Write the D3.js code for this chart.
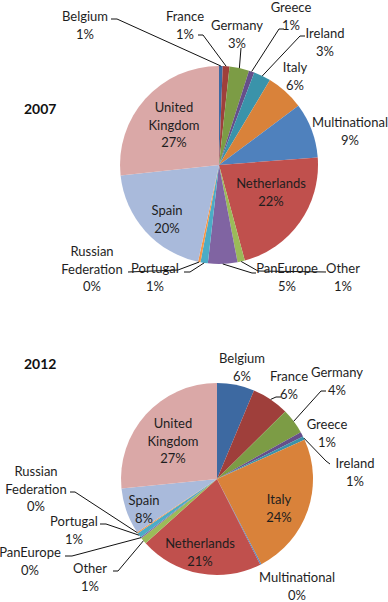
<!DOCTYPE html>
<html>
<head>
<meta charset="utf-8">
<script src="https://cdnjs.cloudflare.com/ajax/libs/d3/7.8.5/d3.min.js"></script>
<style>
  body { margin: 0; background: #fff; }
  svg { display: block; }
  .lbl { font-family: Lato, "Open Sans", sans-serif; font-size: 13px; fill: #1e1e1e; }
  .title { font-family: Lato, "Open Sans", sans-serif; font-size: 14px; font-weight: bold; fill: #111; }
  .leader { fill: none; stroke: #111; stroke-width: 1; }
</style>
</head>
<body>
<script>
// data (percent shares)
const categories = ["Belgium", "France", "Germany", "Greece", "Ireland", "Italy", "Multinational",
  "Netherlands", "Other", "PanEurope", "Portugal", "Russian Federation", "Spain", "United Kingdom"];
const values2007 = [0.6, 1.1, 3.2, 0.9, 2.8, 6.2, 9.0, 22.0, 1.2, 4.8, 1.2, 0.4, 19.9, 26.7];
const values2012 = [6.3, 6.3, 4.3, 0.8, 0.6, 24.1, 0.2, 20.8, 1.1, 0.2, 0.8, 0.2, 7.8, 26.6];
const colors = ["#3d69a1", "#9f3f3b", "#7c9c45", "#664f8a", "#3a93aa", "#d9823a", "#4f81bd",
  "#c0504d", "#9bbb59", "#8064a2", "#4bacc6", "#f79646", "#a9badb", "#daa8a7"];

// label layout: label centre and leader points (leader ends on the slice edge)
const layout2007 = {
  "Belgium": { x: 85, y: 16, lead: [[111, 19], [117, 19]] },
  "France": { x: 185, y: 16, lead: [[198, 35], [203, 35]] },
  "Germany": { x: 237, y: 25, lead: [[241, 48]] },
  "Greece": { x: 291, y: 7, lead: [[284, 29], [279, 29]] },
  "Ireland": { x: 325, y: 33, lead: [[305, 36], [300, 36]] },
  "Italy": { x: 295, y: 67 },
  "Multinational": { x: 350, y: 122 },
  "Netherlands": { x: 271, y: 183 },
  "Other": { x: 343, y: 268, lead: [[326, 272], [258, 271]] },
  "PanEurope": { x: 287, y: 268, lead: [[256, 273], [252, 273]] },
  "Portugal": { x: 155, y: 268, lead: [[184, 272], [190, 272]] },
  "Russian Federation": { x: 92, y: 251, lead: [[128, 272], [178, 270]] },
  "Spain": { x: 167, y: 210 },
  "United Kingdom": { x: 174, y: 107 }
};
const layout2012 = {
  "Belgium": { x: 242, y: 358 },
  "France": { x: 289, y: 376, lead: [[281, 397], [276, 397]] },
  "Germany": { x: 337, y: 372, lead: [[326, 391], [321, 391]] },
  "Greece": { x: 327, y: 424 },
  "Ireland": { x: 355, y: 463, lead: [[330, 464], [326, 461]] },
  "Italy": { x: 279, y: 499 },
  "Multinational": { x: 297, y: 577 },
  "Netherlands": { x: 200, y: 543 },
  "Other": { x: 90, y: 568, lead: [[113, 571], [118, 571]] },
  "PanEurope": { x: 30, y: 552, lead: [[65, 556], [72, 556]] },
  "Portugal": { x: 74, y: 521, lead: [[100, 524], [106, 524]] },
  "Russian Federation": { x: 36, y: 471, lead: [[70, 492], [75, 492]] },
  "Spain": { x: 144, y: 500 },
  "United Kingdom": { x: 173, y: 423 }
};

const charts = [
  { title: "2007", values: values2007, layout: layout2007, cx: 219, cy: 165, r: 99, tx: 24, ty: 108 },
  { title: "2012", values: values2012, layout: layout2012, cx: 217, cy: 479, r: 96, tx: 24, ty: 363 }
];

const W = 388, H = 602, lineH = 17.5;
const svg = d3.select("body").append("svg").attr("width", W).attr("height", H);

const pie = d3.pie().sort(null).value(d => d.value);

charts.forEach(c => {
  const rows = categories.map((name, i) => ({ name, value: c.values[i], color: colors[i] }));
  const arcs = pie(rows);
  const arc = d3.arc().innerRadius(0).outerRadius(c.r);

  const g = svg.append("g").attr("transform", `translate(${c.cx},${c.cy})`);
  g.selectAll("path.slice")
    .data(arcs)
    .enter().append("path")
    .attr("class", "slice")
    .attr("d", arc)
    .attr("fill", d => d.data.color);

  svg.append("text")
    .attr("class", "title")
    .attr("x", c.tx).attr("y", c.ty)
    .attr("dominant-baseline", "central")
    .text(c.title);

  // leader lines
  arcs.forEach(a => {
    const l = c.layout[a.data.name];
    if (!l || !l.lead) return;
    const mid = (a.startAngle + a.endAngle) / 2;
    const end = [c.cx + c.r * Math.sin(mid), c.cy - c.r * Math.cos(mid)];
    svg.append("path")
      .attr("class", "leader")
      .attr("d", d3.line()(l.lead.concat([end])));
  });

  // labels
  arcs.forEach(a => {
    const l = c.layout[a.data.name];
    const lines = a.data.name === "United Kingdom" ? ["United", "Kingdom"]
      : a.data.name === "Russian Federation" ? ["Russian", "Federation"] : [a.data.name];
    lines.push(Math.round(a.data.value) + "%");
    const t = svg.append("text")
      .attr("class", "lbl")
      .attr("text-anchor", "middle");
    lines.forEach((s, k) => {
      t.append("tspan")
        .attr("x", l.x)
        .attr("y", l.y + k * lineH)
        .attr("dominant-baseline", "central")
        .text(s);
    });
  });
});
</script>
</body>
</html>
